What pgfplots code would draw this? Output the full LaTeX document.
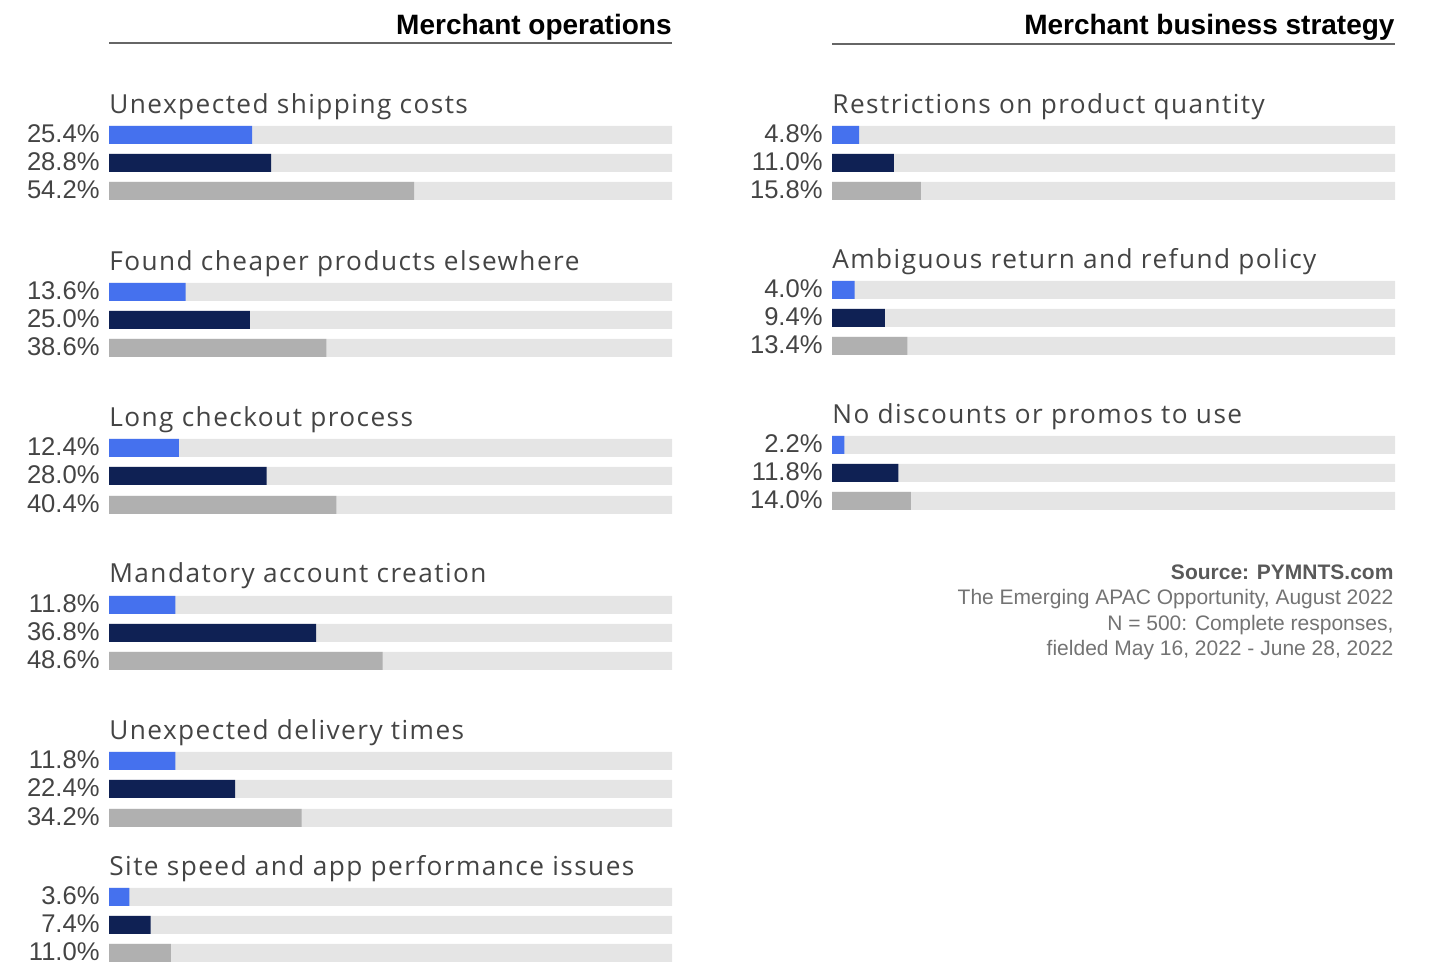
\documentclass[border=0pt]{standalone}
\usepackage{pgfplots}
\pgfplotsset{compat=1.18}
\usepackage{pgfplotstable}
\usepackage{fontspec}
\setmainfont{Liberation Sans}
\newfontfamily\titlefont[LetterSpace=5.5]{Open Sans}
\definecolor{cblue}{HTML}{4571EE}
\definecolor{cnavy}{HTML}{0F2154}
\definecolor{cgray}{HTML}{B0B0B0}
\definecolor{ctrack}{HTML}{E5E5E5}
\definecolor{ctext}{HTML}{444444}

\pgfplotstableread{
y v
829 25.4
672 13.6
516 12.4
359 11.8
203 11.8
67 3.6
}\Lblue
\pgfplotstableread{
y v
801 28.8
644 25.0
488 28.0
331 36.8
175 22.4
39 7.4
}\Lnavy
\pgfplotstableread{
y v
773 54.2
616 38.6
459 40.4
303 48.6
146 34.2
11 11.0
}\Lgray
\pgfplotstableread{
y v
829 4.8
674 4.0
519 2.2
}\Rblue
\pgfplotstableread{
y v
801 11.0
646 9.4
491 11.8
}\Rnavy
\pgfplotstableread{
y v
773 15.8
618 13.4
463 14.0
}\Rgray

\pgfplotsset{
  panel/.style={
    scale only axis, width=281.5pt, height=482pt,
    xmin=0, xmax=100, ymin=0, ymax=964,
    axis line style={draw=none}, xtick=\empty, major tick length=0pt,
    clip=false,
    yticklabel style={font=\fontsize{12.8}{14}\selectfont, text=ctext, inner sep=0pt, xshift=-4.5pt, yshift=0.6pt},
    every axis plot/.append style={xbar, bar width=18, bar shift=0pt, draw=none},
  },
}
\tikzset{
  cat/.style={anchor=base west, inner sep=0pt, font=\titlefont\fontsize{13.1}{15}\selectfont, text=ctext},
  head/.style={anchor=base east, inner sep=0pt, font=\bfseries\fontsize{14}{16}\selectfont, text=black},
}

\begin{document}
\begin{tikzpicture}
\path[use as bounding box] (0,0) rectangle (715pt,482pt);
\begin{axis}[panel, at={(54.5pt,0pt)}, anchor=south west,
  ytick={829,801,773,672,644,616,516,488,459,359,331,303,203,175,146,67,39,11},
  yticklabels={25.4\%,28.8\%,54.2\%,13.6\%,25.0\%,38.6\%,12.4\%,28.0\%,40.4\%,11.8\%,36.8\%,48.6\%,11.8\%,22.4\%,34.2\%,3.6\%,7.4\%,11.0\%}]
\addplot[fill=ctrack] table[x expr=100, y=y] {\Lblue};
\addplot[fill=ctrack] table[x expr=100, y=y] {\Lnavy};
\addplot[fill=ctrack] table[x expr=100, y=y] {\Lgray};
\addplot[fill=cblue] table[x=v, y=y] {\Lblue};
\addplot[fill=cnavy] table[x=v, y=y] {\Lnavy};
\addplot[fill=cgray] table[x=v, y=y] {\Lgray};
\node[head] at (axis cs:100,929.5) {Merchant operations};
\draw[color=black!60, line width=0.75pt] (axis cs:0,921) -- (axis cs:100,921);
\node[cat] at (axis cs:0,850) {Unexpected shipping costs};
\node[cat] at (axis cs:0,693) {Found cheaper products elsewhere};
\node[cat] at (axis cs:0,537) {Long checkout process};
\node[cat] at (axis cs:0,381) {Mandatory account creation};
\node[cat] at (axis cs:0,224) {Unexpected delivery times};
\node[cat] at (axis cs:0,88) {Site speed and app performance issues};
\end{axis}
\begin{axis}[panel, at={(416pt,0pt)}, anchor=south west,
  ytick={829,801,773,674,646,618,519,491,463},
  yticklabels={4.8\%,11.0\%,15.8\%,4.0\%,9.4\%,13.4\%,2.2\%,11.8\%,14.0\%}]
\addplot[fill=ctrack] table[x expr=100, y=y] {\Rblue};
\addplot[fill=ctrack] table[x expr=100, y=y] {\Rnavy};
\addplot[fill=ctrack] table[x expr=100, y=y] {\Rgray};
\addplot[fill=cblue] table[x=v, y=y] {\Rblue};
\addplot[fill=cnavy] table[x=v, y=y] {\Rnavy};
\addplot[fill=cgray] table[x=v, y=y] {\Rgray};
\node[head] at (axis cs:100,929.5) {Merchant business strategy};
\draw[color=black!60, line width=0.75pt] (axis cs:0,920) -- (axis cs:100,920);
\node[cat] at (axis cs:0,850) {Restrictions on product quantity};
\node[cat] at (axis cs:0,695) {Ambiguous return and refund policy};
\node[cat] at (axis cs:0,540) {No discounts or promos to use};
\node[anchor=base east, inner sep=0pt, font=\bfseries\fontsize{10.5}{12}\selectfont, text=black!65] at (axis cs:99.8,384) {Source: PYMNTS.com};
\node[anchor=base east, inner sep=0pt, font=\fontsize{10.5}{12}\selectfont, text=black!55] at (axis cs:99.8,359) {The Emerging APAC Opportunity, August 2022};
\node[anchor=base east, inner sep=0pt, font=\fontsize{10.5}{12}\selectfont, text=black!55] at (axis cs:99.8,333) {N = 500: Complete responses,};
\node[anchor=base east, inner sep=0pt, font=\fontsize{10.5}{12}\selectfont, text=black!55] at (axis cs:99.8,308) {fielded May 16, 2022 - June 28, 2022};
\end{axis}
\end{tikzpicture}
\end{document}
